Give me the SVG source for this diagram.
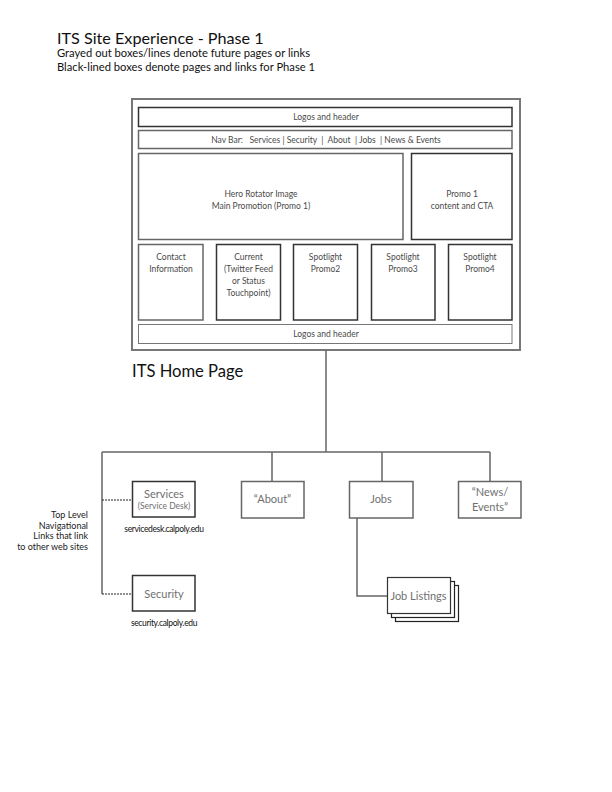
<svg xmlns="http://www.w3.org/2000/svg" width="612" height="792" viewBox="0 0 612 792">
<style>
text{font-family:Lato,"Open Sans","Liberation Sans",sans-serif}
.box{fill:#fff;stroke:#666;stroke-width:1.5}
.frame{fill:#fff;stroke:#777;stroke-width:2}
.t{font-size:8.5px;fill:#4a4a4a;text-anchor:middle}
.b{font-size:11px;fill:#707070;text-anchor:middle}
.url{font-size:8.5px;fill:#111;text-anchor:middle;letter-spacing:-0.35px}
.line{fill:none;stroke:#666;stroke-width:1.5}
.dash{fill:none;stroke:#222;stroke-width:1;stroke-dasharray:2 1}
</style>
<rect width="612" height="792" fill="#fff"/>
<g id="title">
<text x="57" y="44" font-size="16.2" fill="#111">ITS Site Experience - Phase 1</text>
<text x="57" y="57" font-size="11.2" fill="#111">Grayed out boxes/lines denote future pages or links</text>
<text x="57" y="71" font-size="11.2" fill="#111">Black-lined boxes denote pages and links for Phase 1</text>
</g>
<g id="homepage">
<rect class="frame" x="132" y="99" width="388" height="251"/>
<g id="header"><rect class="box" x="138.5" y="107.5" width="373.5" height="19" style="stroke:#333"/><text class="t" x="326" y="120">Logos and header</text></g>
<g id="navbar"><rect class="box" x="138.5" y="130.5" width="373.5" height="18"/><text class="t" x="326" y="143" xml:space="preserve">Nav Bar:   Services | Security  |  About  | Jobs  | News &amp; Events</text></g>
<g id="hero"><rect class="box" x="138.5" y="153.5" width="264.5" height="86"/><text class="t" x="261" y="197">Hero Rotator Image</text><text class="t" x="261" y="209">Main Promotion (Promo 1)</text></g>
<g id="promo1"><rect class="box" x="411.5" y="153.5" width="100.5" height="86" style="stroke:#333"/><text class="t" x="462" y="197">Promo 1</text><text class="t" x="462" y="209">content and CTA</text></g>
<g id="contact"><rect class="box" x="138.5" y="244.5" width="64.5" height="75.5"/><text class="t" x="171" y="260">Contact</text><text class="t" x="171" y="272">Information</text></g>
<g id="current"><rect class="box" x="216.5" y="244.5" width="64" height="75.5" style="stroke:#333"/><text class="t" x="248.5" y="260">Current</text><text class="t" x="248.5" y="272">(Twitter Feed</text><text class="t" x="248.5" y="284">or Status</text><text class="t" x="248.5" y="296">Touchpoint)</text></g>
<g id="spot2"><rect class="box" x="293.5" y="244.5" width="64" height="75.5" style="stroke:#333"/><text class="t" x="325.5" y="260">Spotlight</text><text class="t" x="325.5" y="272">Promo2</text></g>
<g id="spot3"><rect class="box" x="371.5" y="244.5" width="63.5" height="75.5" style="stroke:#333"/><text class="t" x="403" y="260">Spotlight</text><text class="t" x="403" y="272">Promo3</text></g>
<g id="spot4"><rect class="box" x="448.5" y="244.5" width="63.5" height="75.5" style="stroke:#333"/><text class="t" x="480" y="260">Spotlight</text><text class="t" x="480" y="272">Promo4</text></g>
<g id="footer"><rect class="box" x="138.5" y="324.5" width="373.5" height="19" style="stroke:#777;stroke-width:1"/><text class="t" x="326" y="337">Logos and header</text></g>
<text x="132" y="377" font-size="16.6" fill="#111">ITS Home Page</text>
</g>
<g id="connectors">
<path class="line" d="M326 350V452M102 452H490M272 452V481M382 452V481M490 452V481M102 452V594M357 518V596H387"/>
<path class="dash" d="M102 500H132M102 594H132"/>
</g>
<g id="services"><rect class="box" x="132.5" y="481.5" width="62.5" height="35.5" style="stroke:#333"/><text class="b" x="164" y="498">Services</text><text class="t" x="164" y="509" style="fill:#707070">(Service Desk)</text><text class="url" x="164" y="532">servicedesk.calpoly.edu</text></g>
<g id="security"><rect class="box" x="132.5" y="575.5" width="62.5" height="35.5" style="stroke:#333"/><text class="b" x="164" y="598">Security</text><text class="url" x="164" y="626">security.calpoly.edu</text></g>
<g id="about"><rect class="box" x="241.5" y="481.5" width="62.5" height="36.5"/><text class="b" x="272.5" y="503">“About”</text></g>
<g id="jobs"><rect class="box" x="349.5" y="481.5" width="63.5" height="36.5"/><text class="b" x="381" y="503">Jobs</text></g>
<g id="news"><rect class="box" x="458.5" y="481.5" width="62.5" height="36.5"/><text class="b" x="490" y="496">“News/</text><text class="b" x="490" y="511">Events”</text></g>
<g id="joblistings">
<rect class="box" x="395.5" y="585.5" width="63" height="36" style="stroke:#222;stroke-width:1.2"/>
<rect class="box" x="391.5" y="581.5" width="63" height="36" style="stroke:#222;stroke-width:1.2"/>
<rect class="box" x="387.5" y="577.5" width="63" height="36" style="stroke:#333;stroke-width:1.2"/>
<text class="b" x="418.5" y="600">Job Listings</text>
</g>
<g id="note" font-size="9" fill="#222" text-anchor="end">
<text x="88" y="518">Top Level</text>
<text x="88" y="528.5">Navigational</text>
<text x="88" y="539">Links that link</text>
<text x="88" y="549.5">to other web sites</text>
</g>
</svg>
